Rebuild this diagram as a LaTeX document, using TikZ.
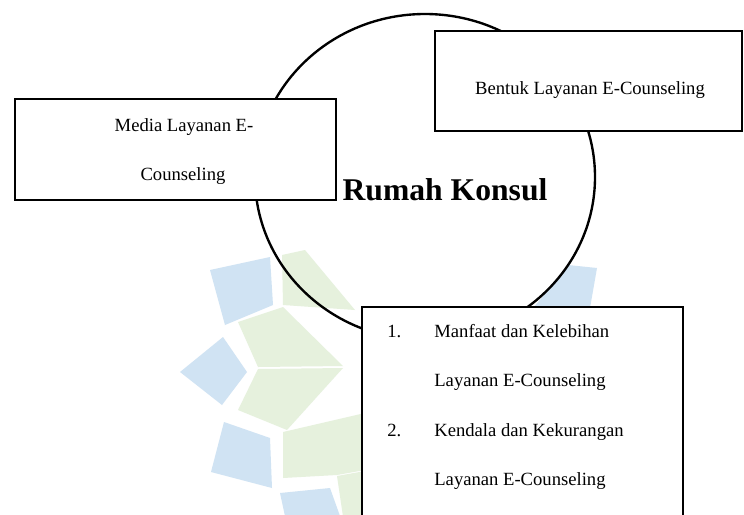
\documentclass[tikz,border=0pt]{standalone}
\usepackage{fontspec}
\setmainfont{Liberation Serif}
\definecolor{wmblue}{RGB}{208,227,243}
\definecolor{wmgreen}{RGB}{230,241,221}
\begin{document}
\begin{tikzpicture}[scale=0.2]
		\tikzstyle{every node}+=[inner sep=0pt]
		\tikzstyle{txt}=[font=\fontsize{10.6}{12}\selectfont, anchor=base]
		\tikzstyle{item}=[txt, anchor=base west]
		\tikzstyle{box}=[draw=black, fill=white, line width=1.65pt]
		\clip (0,0) rectangle (74.4,-51.4);
		\fill [white] (0,0) rectangle (74.4,-51.4);
		% watermark
		\fill [wmgreen] (28.2,-25.5) -- (30.5,-25) -- (35.5,-31) -- (28.3,-30.5) -- cycle;
		\fill [wmgreen] (23.8,-32.2) -- (28.3,-30.7) -- (34.3,-36.6) -- (25.8,-36.7) -- cycle;
		\fill [wmgreen] (25.8,-36.9) -- (34.3,-36.8) -- (28.7,-43) -- (23.8,-41) -- cycle;
		\fill [wmgreen] (28.3,-43.2) -- (36.5,-41.3) -- (36.5,-47) -- (33.7,-47.5) -- (28.3,-47.8) -- cycle;
		\fill [wmgreen] (33.7,-47.6) -- (36.5,-47.1) -- (36.5,-53) -- (34.5,-53) -- cycle;
		\fill [wmblue] (21,-27) -- (27,-25.7) -- (27.3,-30.5) -- (22.5,-32.5) -- cycle;
		\fill [wmblue] (18,-37.2) -- (22.3,-33.7) -- (24.7,-37.2) -- (22.2,-40.5) -- cycle;
		\fill [wmblue] (21.1,-47.2) -- (22.4,-42.2) -- (27,-43.8) -- (27.2,-48.8) -- cycle;
		\fill [wmblue] (28,-49.3) -- (33,-48.8) -- (34.5,-53) -- (28.8,-53) -- cycle;
		\fill [wmblue] (53.3,-30.8) -- (55.7,-28) -- (56.8,-26.5) -- (59.7,-26.8) -- (59,-30.8) -- cycle;
		% circle
		\draw [black, line width=1.35pt] (42.5,-17.7) ellipse (17 and 16.3);
		% boxes
		\draw [box] (1.5,-9.9) rectangle (33.6,-20);
		\draw [box] (43.5,-3.1) rectangle (74.2,-13.1);
		\draw [box] (36.2,-30.7) rectangle (68.3,-53);
		% texts
		\node (media1) at (18.4,-13.1) [txt] {Media Layanan E-};
		\node (media2) at (18.3,-18) [txt] {Counseling};
		\node (bentuk) at (59,-9.4) [txt] {Bentuk Layanan E-Counseling};
		\node (rumah) at (44.5,-20) [txt, font=\bfseries\fontsize{18}{20}\selectfont] {Rumah Konsul};
		\node (num1) at (38.7,-33.7) [item] {1.};
		\node (manfaat) at (43.4,-33.7) [item] {Manfaat dan Kelebihan};
		\node (layanan1) at (43.4,-38.6) [item] {Layanan E-Counseling};
		\node (num2) at (38.7,-43.6) [item] {2.};
		\node (kendala) at (43.4,-43.6) [item] {Kendala dan Kekurangan};
		\node (layanan2) at (43.4,-48.5) [item] {Layanan E-Counseling};
	\end{tikzpicture}
\end{document}
